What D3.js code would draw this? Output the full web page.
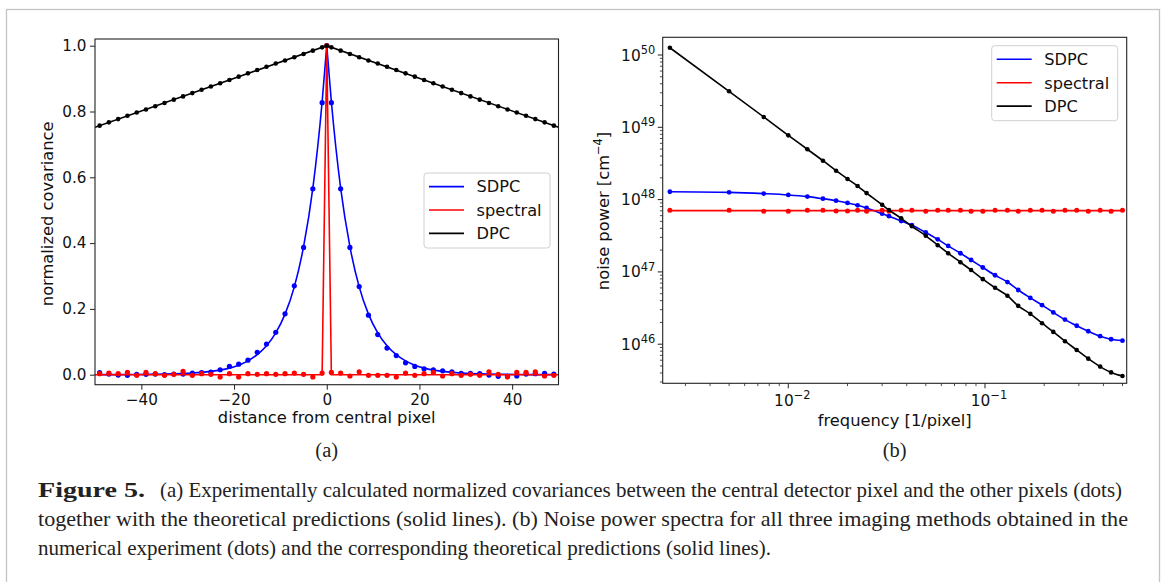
<!DOCTYPE html>
<html>
<head>
<meta charset="utf-8">
<script src="https://cdn.jsdelivr.net/npm/d3@7"></script>
<style>
  body { margin: 0; background: #fff; }
  svg text { font-family: "DejaVu Sans", sans-serif; fill: #111; }
  .serif { font-family: "Liberation Serif", serif !important; fill: #222 !important; }
</style>
</head>
<body>
<svg id="fig" width="1165" height="582"></svg>
<script>
// ---- panel (a): covariance vs distance ----
const covX = [-49,-47,-45,-43,-41,-39,-37,-35,-33,-31,-29,-27,-25,-23,-21,-19,-17,-15,-13,-11,-9,-7,-5,-3,-1,0,
              1,3,5,7,9,11,13,15,17,19,21,23,25,27,29,31,33,35,37,39,41,43,45,47,49];
const covDpc = [0.757,0.767,0.777,0.787,0.797,0.806,0.816,0.826,0.836,0.846,0.856,0.866,0.876,0.886,0.896,0.906,0.916,0.926,0.936,0.946,0.955,0.965,0.975,0.985,0.995,1.0,
                0.995,0.985,0.975,0.965,0.955,0.946,0.936,0.926,0.916,0.906,0.896,0.886,0.876,0.866,0.856,0.846,0.836,0.826,0.816,0.806,0.797,0.787,0.777,0.767,0.757];
const covSdpc = [0.006,0.002,-0.001,-0.002,0.001,0.001,0.002,0.0,0.002,0.002,0.005,0.006,0.008,0.015,0.025,0.032,0.044,0.068,0.093,0.129,0.185,0.270,0.387,0.565,0.827,1.0,
                 0.827,0.565,0.387,0.268,0.181,0.122,0.081,0.058,0.036,0.025,0.018,0.015,0.012,0.009,0.004,0.004,0.003,-0.001,-0.005,-0.005,-0.004,0.002,0.003,0.004,0.002];
const covSpectral = [0.003,0.005,0.003,0.007,-0.002,0.007,0.003,-0.002,0.001,0.010,-0.002,0.003,0.001,-0.007,0.003,-0.007,0.003,0.001,0.003,0.001,0.003,0.005,0.001,-0.007,0.005,1.0,
                     0.007,0.005,-0.004,0.009,-0.002,-0.002,-0.002,-0.007,0.005,-0.002,0.003,0.007,-0.004,0.003,-0.002,0.001,-0.002,0.009,0.001,-0.007,0.007,0.007,0.009,-0.004,-0.002];
// theory
const sdpcTheory = [0.0001,0.0002,0.0003,0.0004,0.0006,0.0009,0.0013,0.0018,0.0025,0.0035,0.005,0.007,0.010,0.014,0.020,0.029,0.042,0.061,0.088,0.127,0.184,0.267,0.389,0.567,0.829,1.0,
                    0.829,0.567,0.389,0.267,0.184,0.127,0.088,0.061,0.042,0.029,0.020,0.014,0.010,0.007,0.005,0.0035,0.0025,0.0018,0.0013,0.0009,0.0006,0.0004,0.0003,0.0002,0.0001];
const dpcTheoryX = [-50, 0, 50];
const dpcTheory = [0.752, 1.0, 0.752];
const spectralTheoryX = [-50, -1, 0, 1, 50];
const spectralTheory = [0, 0, 1, 0, 0];
const covTicksX = [-40, -20, 0, 20, 40];
const covTicksY = [0, 0.2, 0.4, 0.6, 0.8, 1.0];

// ---- panel (b): noise power spectra ----
const npsFreq = [0.0025,0.005,0.0075,0.01,0.0125,0.015,0.0175,0.02,0.0225,0.025,
                 0.03,0.0325,0.0375,0.0425,0.05,0.0575,0.065,0.075,0.085,0.0975,
                 0.1125,0.13,0.1475,0.17,0.195,0.2225,0.255,0.2925,0.335,0.385,
                 0.4375,0.5];
const npsDpc = [1.26e50,3.15e49,1.39e49,7.74e48,4.97e48,3.45e48,2.51e48,1.93e48,1.54e48,1.23e48,
                8.49e47,7.18e47,5.51e47,4.27e47,3.16e47,2.34e47,1.81e47,1.36e47,1.06e47,7.94e46,
                6.03e46,4.68e46,3.39e46,2.63e46,1.95e46,1.48e46,1.10e46,8.32e45,6.31e45,4.90e45,
                4.07e45,3.63e45];
const npsSdpc = [1.285e48,1.26e48,1.21e48,1.16e48,1.10e48,1.03e48,9.66e47,8.99e47,8.34e47,7.66e47,
                 6.38e47,5.89e47,5.06e47,4.42e47,3.51e47,2.82e47,2.29e47,1.81e47,1.46e47,1.15e47,
                 8.98e46,7.24e46,5.62e46,4.37e46,3.47e46,2.75e46,2.19e46,1.80e46,1.51e46,1.29e46,
                 1.17e46,1.12e46];
const npsSpectral = [7.10e47,7.10e47,6.88e47,6.88e47,7.10e47,7.10e47,6.95e47,6.95e47,7.10e47,6.88e47,
                     7.10e47,6.88e47,7.10e47,7.10e47,6.88e47,7.10e47,7.10e47,7.10e47,6.88e47,6.88e47,
                     7.10e47,7.10e47,6.88e47,7.10e47,7.10e47,6.88e47,7.10e47,7.10e47,6.88e47,7.10e47,
                     6.88e47,7.10e47];
const spectralNpsTheoryX = [0.0025, 0.5];
const spectralNpsTheory = [7.05e47, 7.05e47];
const npsTicksX = [-2, -1];
const npsTicksY = [46, 47, 48, 49, 50];

const seriesNames = ["SDPC", "spectral", "DPC"];
const seriesColors = ["#0000ff", "#ff0000", "#000000"];

const captionLines = [
  "(a) Experimentally calculated normalized covariances between the central detector pixel and the other pixels (dots)",
  "together with the theoretical predictions (solid lines). (b) Noise power spectra for all three imaging methods obtained in the",
  "numerical experiment (dots) and the corresponding theoretical predictions (solid lines)."
];

const svg = d3.select("#fig");
const minus = d => (d < 0 ? "\u2212" + Math.abs(d) : String(d));

// page frame
svg.append("rect").attr("x", 6.5).attr("y", 9.5).attr("width", 1153).attr("height", 620)
  .attr("fill", "none").attr("stroke", "#c4c4c4").attr("stroke-width", 1.3);

function pts(xs, ys) { return xs.map((x, i) => ({x: x, y: ys[i]})); }

function frame(g, b, id) {
  g.append("clipPath").attr("id", id).append("rect")
    .attr("x", b.left).attr("y", b.top).attr("width", b.right - b.left).attr("height", b.bottom - b.top);
}

function legend(g, x, y) {
  const lg = g.append("g").attr("transform", `translate(${x},${y})`);
  lg.append("rect").attr("width", 126).attr("height", 75).attr("rx", 3)
    .attr("fill", "#fff").attr("fill-opacity", 0.8).attr("stroke", "#d0d0d0");
  seriesNames.forEach((n, i) => {
    const yy = 13.6 + i * 23.4;
    lg.append("line").attr("x1", 5).attr("x2", 40).attr("y1", yy).attr("y2", yy)
      .attr("stroke", seriesColors[i]).attr("stroke-width", 1.6);
    lg.append("text").attr("x", 52.6).attr("y", yy).attr("dy", "0.36em")
      .attr("font-size", 16.2).text(n);
  });
}

// ================= panel (a) =================
const A = {left: 95, right: 558.5, top: 39, bottom: 384.7};
const xA = d3.scaleLinear().domain([-50, 50]).range([A.left, A.right]);
const yA = d3.scaleLinear().domain([-0.0304, 1.0204]).range([A.bottom, A.top]);
const gA = svg.append("g");
frame(gA, A, "clipA");

const lineA = d3.line().x(d => xA(d.x)).y(d => yA(d.y));
const smoothA = d3.line().x(d => xA(d.x)).y(d => yA(d.y)).curve(d3.curveMonotoneX);
const plotA = gA.append("g").attr("clip-path", "url(#clipA)");

function dotsA(ys, color, r) {
  plotA.append("g").selectAll("circle").data(pts(covX, ys)).join("circle")
    .attr("cx", d => xA(d.x)).attr("cy", d => yA(d.y)).attr("r", r).attr("fill", color);
}
// SDPC
dotsA(covSdpc, seriesColors[0], 2.6);
const sdpcPts = pts(covX, sdpcTheory);
[sdpcPts.filter(d => d.x <= 0), sdpcPts.filter(d => d.x >= 0)].forEach(half => {
  plotA.append("path").datum(half).attr("d", smoothA)
    .attr("fill", "none").attr("stroke", seriesColors[0]).attr("stroke-width", 1.6);
});
// spectral
dotsA(covSpectral, seriesColors[1], 2.6);
plotA.append("path").datum(pts(spectralTheoryX, spectralTheory)).attr("d", lineA)
  .attr("fill", "none").attr("stroke", seriesColors[1]).attr("stroke-width", 1.6);
// DPC
dotsA(covDpc, seriesColors[2], 2.3);
plotA.append("path").datum(pts(dpcTheoryX, dpcTheory)).attr("d", lineA)
  .attr("fill", "none").attr("stroke", seriesColors[2]).attr("stroke-width", 1.6);

// axes (a)
const axA_x = gA.append("g").attr("transform", `translate(0,${A.bottom})`)
  .call(d3.axisBottom(xA).tickValues(covTicksX).tickSize(5).tickFormat(minus));
const axA_y = gA.append("g").attr("transform", `translate(${A.left},0)`)
  .call(d3.axisLeft(yA).tickValues(covTicksY).tickSize(5).tickFormat(d3.format(".1f")));
[axA_x, axA_y].forEach(ax => {
  ax.select(".domain").remove();
  ax.attr("font-family", null).attr("font-size", null);
  ax.selectAll(".tick line").attr("stroke", "#222");
  ax.selectAll(".tick text").attr("font-size", 15.2).attr("fill", "#111");
});
axA_x.selectAll(".tick text").attr("y", 20).attr("dy", null);
axA_y.selectAll(".tick text").attr("x", -8.5);
gA.append("rect").attr("x", A.left).attr("y", A.top).attr("width", A.right - A.left)
  .attr("height", A.bottom - A.top).attr("fill", "none").attr("stroke", "#222").attr("stroke-width", 1.1);
legend(gA, 424, 173);
gA.append("text").attr("x", (A.left + A.right) / 2).attr("y", 422.5).attr("text-anchor", "middle")
  .attr("font-size", 16.3).text("distance from central pixel");
gA.append("text").attr("transform", `translate(47.5,${(A.top + A.bottom) / 2 + 2}) rotate(-90)`)
  .attr("text-anchor", "middle").attr("dy", "0.35em").attr("font-size", 16.3).text("normalized covariance");
gA.append("text").attr("class", "serif").attr("x", (A.left + A.right) / 2).attr("y", 457)
  .attr("text-anchor", "middle").attr("font-size", 20.5).text("(a)");

// ================= panel (b) =================
const B = {left: 662.7, right: 1126.7, top: 37.3, bottom: 383.3};
const xB = d3.scaleLog().domain([Math.pow(10, -2.6385), Math.pow(10, -0.2796)]).range([B.left, B.right]);
const yB = d3.scaleLog().domain([Math.pow(10, 45.459), Math.pow(10, 50.245)]).range([B.bottom, B.top]);
const gB = svg.append("g");
frame(gB, B, "clipB");
const plotB = gB.append("g").attr("clip-path", "url(#clipB)");
const lineB = d3.line().x(d => xB(d.x)).y(d => yB(d.y));
const smoothB = d3.line().x(d => xB(d.x)).y(d => yB(d.y)).curve(d3.curveMonotoneX);

function seriesB(ys, color, r, lx, ly) {
  plotB.append("g").selectAll("circle").data(pts(npsFreq, ys)).join("circle")
    .attr("cx", d => xB(d.x)).attr("cy", d => yB(d.y)).attr("r", r).attr("fill", color);
  plotB.append("path").datum(lx ? pts(lx, ly) : pts(npsFreq, ys)).attr("d", lx ? lineB : smoothB)
    .attr("fill", "none").attr("stroke", color).attr("stroke-width", 1.6);
}
seriesB(npsSdpc, seriesColors[0], 2.4);
seriesB(npsSpectral, seriesColors[1], 2.5, spectralNpsTheoryX, spectralNpsTheory);
seriesB(npsDpc, seriesColors[2], 2.3);

// log ticks (b)
const minorX = xB.ticks().filter(v => Math.abs(Math.log10(v) - Math.round(Math.log10(v))) > 1e-6);
const minorY = [];
for (let e = 45; e <= 50; e++) for (let m = 2; m <= 9; m++) {
  const v = m * Math.pow(10, e);
  if (v >= yB.domain()[0] && v <= yB.domain()[1]) minorY.push(v);
}
const axB = gB.append("g");
axB.selectAll(".mx").data(minorX).join("line")
  .attr("x1", d => xB(d)).attr("x2", d => xB(d)).attr("y1", B.bottom).attr("y2", B.bottom + 2.8)
  .attr("stroke", "#222").attr("stroke-width", 0.8);
axB.selectAll(".my").data(minorY).join("line")
  .attr("y1", d => yB(d)).attr("y2", d => yB(d)).attr("x1", B.left).attr("x2", B.left - 2.8)
  .attr("stroke", "#222").attr("stroke-width", 0.8);
axB.selectAll(".Mx").data(npsTicksX).join("line")
  .attr("x1", d => xB(Math.pow(10, d))).attr("x2", d => xB(Math.pow(10, d)))
  .attr("y1", B.bottom).attr("y2", B.bottom + 5).attr("stroke", "#222");
axB.selectAll(".My").data(npsTicksY).join("line")
  .attr("y1", d => yB(Math.pow(10, d))).attr("y2", d => yB(Math.pow(10, d)))
  .attr("x1", B.left).attr("x2", B.left - 5).attr("stroke", "#222");

function powLabel(sel, e) {
  sel.append("tspan").text("10");
  sel.append("tspan").attr("dy", -6.8).attr("font-size", 11.4).text(minus(e));
}
npsTicksX.forEach(e => {
  const t = axB.append("text").attr("x", xB(Math.pow(10, e)) + 4).attr("y", 405.5)
    .attr("text-anchor", "middle").attr("font-size", 15.4);
  powLabel(t, e);
});
npsTicksY.forEach(e => {
  const t = axB.append("text").attr("x", B.left - 7.5).attr("y", yB(Math.pow(10, e))).attr("dy", "0.36em")
    .attr("text-anchor", "end").attr("font-size", 15.4);
  powLabel(t, e);
});
gB.append("rect").attr("x", B.left).attr("y", B.top).attr("width", B.right - B.left)
  .attr("height", B.bottom - B.top).attr("fill", "none").attr("stroke", "#222").attr("stroke-width", 1.1);
legend(gB, 991.7, 45.7);
gB.append("text").attr("x", (B.left + B.right) / 2).attr("y", 426).attr("text-anchor", "middle")
  .attr("font-size", 16.3).text("frequency [1/pixel]");
const yl = gB.append("text").attr("transform", `translate(603,211) rotate(-90)`)
  .attr("text-anchor", "middle").attr("dy", "0.35em").attr("font-size", 16.3);
yl.append("tspan").text("noise power [cm");
yl.append("tspan").attr("dy", -6.5).attr("font-size", 11.4).text("\u22124");
yl.append("tspan").attr("dy", 6.5).text("]");
gB.append("text").attr("class", "serif").attr("x", (B.left + B.right) / 2).attr("y", 457)
  .attr("text-anchor", "middle").attr("font-size", 20.5).text("(b)");

// ================= caption =================
const cap = svg.append("g").attr("class", "caption");
cap.append("text").attr("class", "serif").attr("x", 38).attr("y", 497).attr("font-size", 22)
  .attr("font-weight", "bold").attr("textLength", 107).attr("lengthAdjust", "spacingAndGlyphs").text("Figure 5.");
const capEnds = [1122, 1128, 771];
const capStarts = [160, 38, 38];
captionLines.forEach((s, i) => {
  cap.append("text").attr("class", "serif").attr("x", capStarts[i]).attr("y", 497 + i * 29)
    .attr("font-size", 21).attr("textLength", capEnds[i] - capStarts[i])
    .attr("lengthAdjust", "spacingAndGlyphs").text(s);
});
</script>
</body>
</html>
